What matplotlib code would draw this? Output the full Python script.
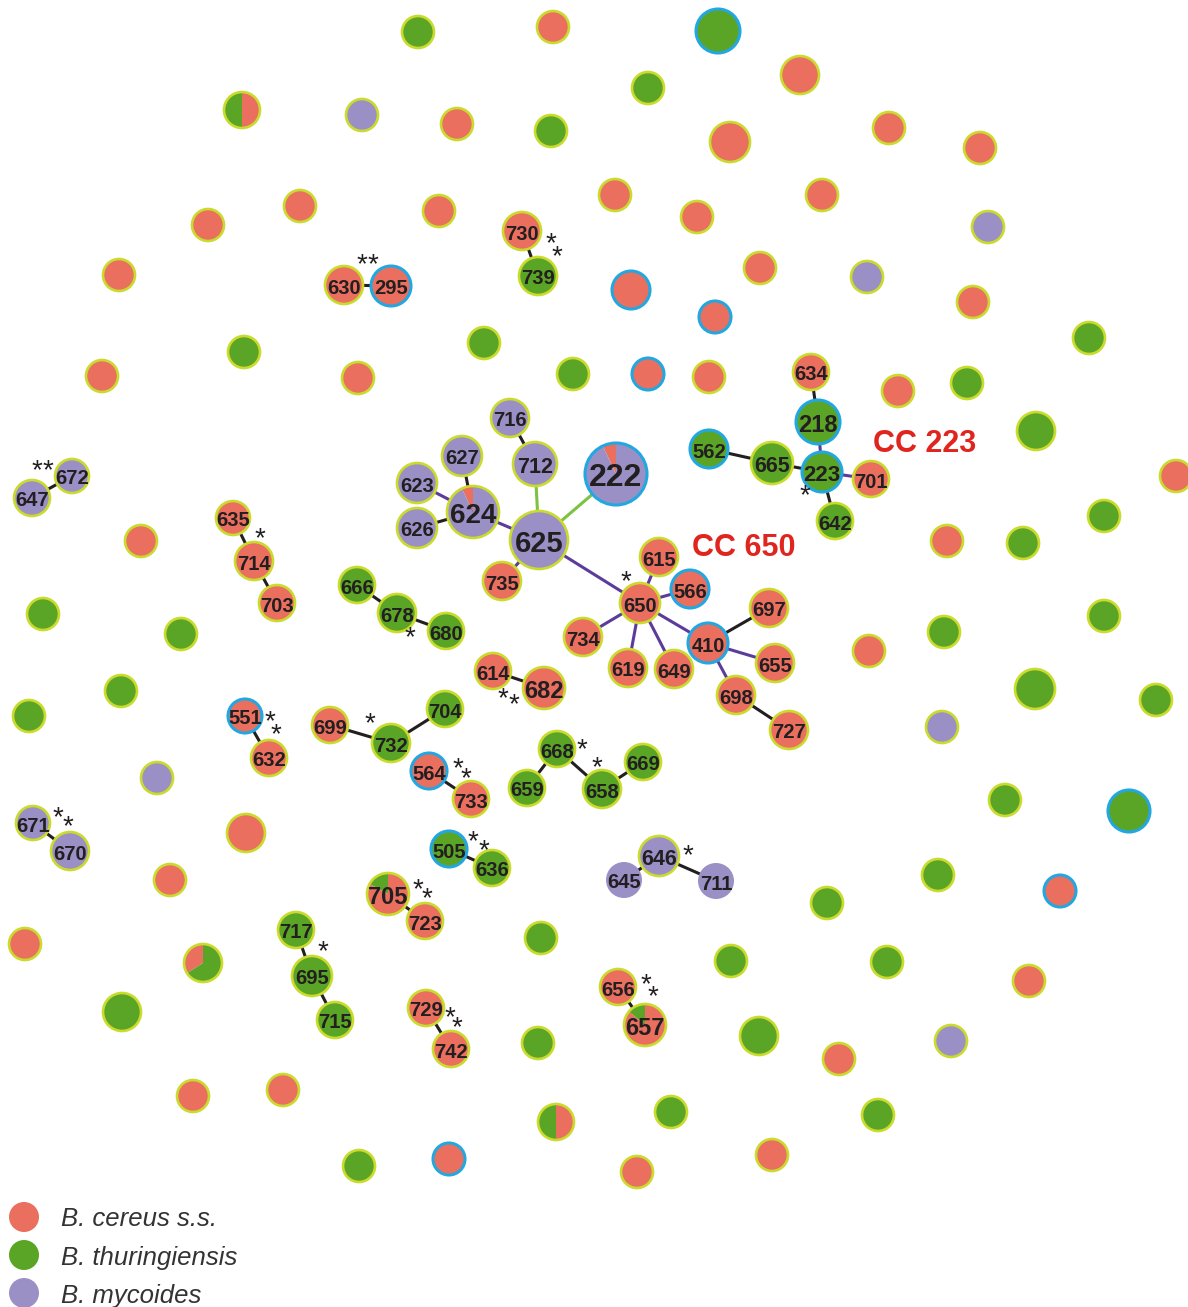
import matplotlib.pyplot as plt
from matplotlib.patches import Circle, Wedge

plt.rcParams['font.family'] = ['Liberation Sans', 'DejaVu Sans']

# species colours, ring colours, link colours
FILL = {'c': '#ea6f5f', 't': '#5ba526', 'm': '#9b90c6'}
RING = {'y': '#cadb2e', 'b': '#22a7e0', '': None}
LINK = {'k': '#231f20', 'p': '#5b3c9b', 'g': '#7dc242'}

# named sequence types (species listed counter-clockwise from 12 o'clock, with share)
st_id = ['630', '295', '730', '739', '634', '218', '223', '562', '665', '701', '642',
         '716', '712', '627', '623', '626', '624', '625', '222', '735',
         '650', '615', '566', '734', '619', '649', '410', '697', '655', '698', '727',
         '672', '647', '635', '714', '703', '666', '678', '680', '614', '682',
         '551', '632', '699', '732', '704', '564', '733', '668', '659', '658', '669',
         '671', '670', '505', '636', '646', '645', '711', '705', '723',
         '717', '695', '715', '729', '742', '656', '657']
st_species = ['c', 'c', 'c', 't', 'c', 't', 't', 't', 't', 'c', 't',
              'm', 'm', 'm', 'm', 'm', 'cm', 'm', 'cm', 'c',
              'c', 'c', 'c', 'c', 'c', 'c', 'c', 'c', 'c', 'c', 'c',
              'm', 'm', 'c', 'c', 'c', 't', 't', 't', 'c', 'c',
              'c', 'c', 'c', 't', 't', 'c', 'c', 't', 't', 't', 't',
              'm', 'm', 't', 't', 'm', 'm', 'm', 'tc', 'c',
              't', 't', 't', 'c', 'c', 'c', 'tc']
st_share = {'624': (0.07, 0.93), '222': (0.07, 0.93),
            '705': (0.17, 0.83), '657': (0.14, 0.86)}

# layout of the named types (pixel grid)
st_x = [344, 391, 522, 538, 811, 818, 822, 709, 772, 871, 835,
        510, 535, 462, 417, 417, 473, 539, 616, 502,
        640, 659, 690, 583, 628, 674, 708, 769, 775, 736, 789,
        72, 32, 233, 254, 277, 357, 397, 446, 493, 544,
        245, 269, 330, 391, 445, 429, 471, 557, 527, 602, 643,
        33, 70, 449, 492, 659, 624, 716, 388, 425,
        296, 312, 335, 426, 451, 618, 645]
st_y = [285, 286, 231, 276, 372, 422, 472, 449, 463, 479, 521,
        418, 464, 456, 483, 528, 512, 540, 474, 581,
        603, 557, 589, 637, 668, 669, 643, 608, 663, 695, 730,
        476, 498, 518, 561, 603, 585, 613, 631, 671, 688,
        716, 758, 725, 743, 709, 771, 799, 749, 788, 789, 762,
        823, 851, 849, 868, 856, 880, 881, 894, 921,
        930, 976, 1020, 1008, 1049, 987, 1025]
st_r = [19, 20, 19, 19, 18, 22, 20, 19, 21, 18, 18,
        19, 22, 20, 20, 20, 26, 29, 31, 19,
        20, 19, 19, 19, 19, 19, 20, 19, 19, 19, 19,
        17, 18, 17, 19, 18, 18, 19, 18, 18, 21,
        17, 18, 18, 19, 18, 18, 18, 18, 18, 19, 18,
        17, 19, 18, 18, 20, 18, 18, 21, 18,
        18, 20, 18, 18, 18, 18, 21]
st_ring = ['y', 'b', 'y', 'y', 'y', 'b', 'b', 'b', 'y', 'y', 'y',
           'y', 'y', 'y', 'y', 'y', 'y', 'y', 'b', 'y',
           'y', 'y', 'b', 'y', 'y', 'y', 'b', 'y', 'y', 'y', 'y',
           'y', 'y', 'y', 'y', 'y', 'y', 'y', 'y', 'y', 'y',
           'b', 'y', 'y', 'y', 'y', 'b', 'y', 'y', 'y', 'y', 'y',
           'y', 'y', 'b', 'y', 'y', '', '', 'y', 'y',
           'y', 'y', 'y', 'y', 'y', 'y', 'y']
st_fs = {'218': 17, '223': 16, '665': 15.5, '712': 15.5, '624': 20, '625': 21,
         '222': 23, '682': 17, '705': 17, '657': 17, '646': 15.5}

# single-locus-variant links
links = [('630', '295', 'k'), ('730', '739', 'k'), ('634', '218', 'k'), ('218', '223', 'p'),
         ('562', '665', 'k'), ('665', '223', 'k'), ('223', '701', 'p'), ('223', '642', 'k'),
         ('716', '712', 'k'), ('712', '625', 'g'), ('222', '625', 'g'), ('627', '624', 'k'),
         ('623', '624', 'p'), ('626', '624', 'k'), ('624', '625', 'p'), ('625', '735', 'p'),
         ('625', '650', 'p'), ('650', '615', 'p'), ('650', '566', 'p'), ('650', '734', 'p'),
         ('650', '619', 'p'), ('650', '649', 'p'), ('650', '410', 'p'), ('410', '697', 'k'),
         ('410', '655', 'p'), ('410', '698', 'p'), ('698', '727', 'k'), ('672', '647', 'k'),
         ('635', '714', 'k'), ('714', '703', 'k'), ('666', '678', 'k'), ('678', '680', 'k'),
         ('614', '682', 'k'), ('551', '632', 'k'), ('699', '732', 'k'), ('732', '704', 'k'),
         ('564', '733', 'k'), ('668', '659', 'k'), ('668', '658', 'k'), ('658', '669', 'k'),
         ('671', '670', 'k'), ('505', '636', 'k'), ('646', '645', 'k'), ('646', '711', 'k'),
         ('705', '723', 'k'), ('717', '695', 'k'), ('695', '715', 'k'), ('729', '742', 'k'),
         ('656', '657', 'k')]

# unnamed singletons
sg_species = ['t', 'c', 't', 'c', 't', 'tc', 'm', 'c', 't', 'c', 'c', 'c',
              'c', 'c', 'c', 'c', 'c', 'c', 'm', 'c', 'c', 'm', 'c', 'c', 'c', 't',
              't', 't', 'c', 'c', 't', 'c', 'c', 'c', 't', 't', 'c', 't', 'c', 't',
              'c', 't', 't', 't', 't', 't', 'c', 't', 't', 'm', 'm', 't', 't', 't',
              'c', 'c', 't', 't', 'c', 'c', 't', 'ct', 't', 't', 'c', 't', 't', 't',
              'm', 'c', 'c', 'c', 'tc', 't', 't', 'c', 't', 'c', 'c']
sg_share = {5: (0.5, 0.5), 61: (0.34, 0.66), 72: (0.5, 0.5)}
sg_x = [418, 553, 718, 800, 648, 242, 362, 457, 551, 730, 889, 980,
        208, 300, 439, 615, 697, 822, 988, 119, 760, 867, 631, 715, 973, 1089,
        484, 244, 102, 358, 573, 648, 709, 898, 967, 1036, 1176, 1104, 947, 1023,
        141, 43, 181, 944, 1104, 1035, 869, 1156, 121, 942, 157, 29, 1005, 1129,
        246, 170, 938, 827, 1060, 25, 541, 203, 731, 887, 1029, 122, 759, 538,
        951, 839, 193, 283, 556, 671, 878, 772, 359, 449, 637]
sg_y = [32, 27, 31, 75, 88, 110, 115, 124, 131, 142, 128, 148,
        225, 206, 211, 195, 217, 195, 227, 275, 268, 277, 290, 317, 302, 338,
        343, 352, 376, 378, 374, 374, 377, 391, 383, 431, 476, 516, 541, 543,
        541, 614, 634, 632, 616, 689, 651, 700, 691, 727, 778, 716, 800, 811,
        833, 880, 875, 903, 891, 944, 938, 963, 961, 962, 981, 1012, 1036, 1043,
        1041, 1059, 1096, 1090, 1122, 1112, 1115, 1155, 1166, 1159, 1172]
sg_r = [16, 16, 22, 19, 16, 18, 16, 16, 16, 20, 16, 16,
        16, 16, 16, 16, 16, 16, 16, 16, 16, 16, 19, 16, 16, 16,
        16, 16, 16, 16, 16, 16, 16, 16, 16, 19, 16, 16, 16, 16,
        16, 16, 16, 16, 16, 20, 16, 16, 16, 16, 16, 16, 16, 21,
        19, 16, 16, 16, 16, 16, 16, 19, 16, 16, 16, 19, 19, 16,
        16, 16, 16, 16, 18, 16, 16, 16, 16, 16, 16]
sg_ring = ['y', 'y', 'b', 'y', 'y', 'y', 'y', 'y', 'y', 'y', 'y', 'y',
           'y', 'y', 'y', 'y', 'y', 'y', 'y', 'y', 'y', 'y', 'b', 'b', 'y', 'y',
           'y', 'y', 'y', 'y', 'y', 'b', 'y', 'y', 'y', 'y', 'y', 'y', 'y', 'y',
           'y', 'y', 'y', 'y', 'y', 'y', 'y', 'y', 'y', 'y', 'y', 'y', 'y', 'b',
           'y', 'y', 'y', 'y', 'b', 'y', 'y', 'y', 'y', 'y', 'y', 'y', 'y', 'y',
           'y', 'y', 'y', 'y', 'y', 'y', 'y', 'y', 'y', 'b', 'y']

# asterisks next to some types
star_x = [362, 373, 551, 557, 805, 626, 37, 48, 260, 410, 503, 514, 270, 276, 370,
          458, 466, 582, 597, 58, 68, 473, 484, 688, 418, 427, 323, 450, 457, 646, 653]
star_y = [265, 265, 244, 257, 496, 582, 471, 471, 539, 638, 699, 705, 722, 735, 724,
          769, 779, 750, 768, 818, 827, 842, 851, 856, 890, 899, 952, 1018, 1028, 985, 997]

cc_text = ['CC 223', 'CC 650']
cc_x = [925, 744]
cc_y = [441, 544]

legend_species = ['c', 't', 'm']
legend_names = ['B. cereus s.s.', 'B. thuringiensis', 'B. mycoides']

fig = plt.figure(figsize=(11.88, 13.07), dpi=100)
ax = fig.add_axes([0, 0, 1, 1])
ax.set_xlim(0, 1188)
ax.set_ylim(1307, 0)
ax.axis('off')


def node(x, y, r, species, share, ring):
    if len(species) == 1:
        ax.add_patch(Circle((x, y), r, facecolor=FILL[species], edgecolor='none', zorder=3))
    else:
        # y runs downwards, so screen angles are mirrored
        a = 90.0
        for sp, f in zip(species, share):
            b = a + 360 * f
            ax.add_patch(Wedge((x, y), r, -b, -a, facecolor=FILL[sp],
                               edgecolor='none', zorder=3))
            a = b
    if RING[ring]:
        w = 2.2 if ring == 'b' else 1.9
        ax.add_patch(Circle((x, y), r, facecolor='none', edgecolor=RING[ring],
                            lw=w, zorder=4))


pos = {s: (x, y) for s, x, y in zip(st_id, st_x, st_y)}
for a, b, c in links:
    (x1, y1), (x2, y2) = pos[a], pos[b]
    ax.plot([x1, x2], [y1, y2], color=LINK[c], lw=2.2, zorder=2, solid_capstyle='butt')

for i in range(len(sg_x)):
    node(sg_x[i], sg_y[i], sg_r[i], sg_species[i], sg_share.get(i, (1,)), sg_ring[i])

for i, s in enumerate(st_id):
    node(st_x[i], st_y[i], st_r[i], st_species[i], st_share.get(s, (1,)), st_ring[i])
    ax.text(st_x[i], st_y[i] + 1, s, ha='center', va='center_baseline',
            fontsize=st_fs.get(s, 14.5), fontweight='bold', color='#231f20', zorder=5)

for x, y in zip(star_x, star_y):
    ax.text(x, y, '*', ha='center', va='center', fontsize=20, color='#231f20', zorder=5)

for t, x, y in zip(cc_text, cc_x, cc_y):
    ax.text(x, y, t, ha='center', va='center_baseline', fontsize=22, fontweight='bold',
            color='#e0251e', zorder=5)

for i, (sp, name) in enumerate(zip(legend_species, legend_names)):
    y = 1217 + 38 * i
    ax.add_patch(Circle((24, y), 15, facecolor=FILL[sp], edgecolor='none'))
    ax.text(61, y, name, ha='left', va='center_baseline', fontsize=18.5,
            style='italic', color='#333333')

fig.savefig('out.png', dpi=100)
